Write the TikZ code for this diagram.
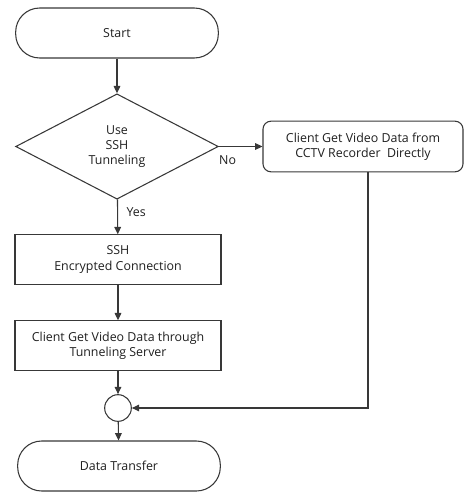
\documentclass[tikz,border=0pt]{standalone}
\usepackage{fontspec}
\setmainfont{Open Sans}
\usetikzlibrary{shapes.geometric,arrows.meta}
\begin{document}
\begin{tikzpicture}[x=0.75pt,y=-0.75pt,
  every node/.style={font=\fontsize{9.3}{11.3}\selectfont, text=black!88, align=center},
  line/.style={draw=black!78, line width=0.8pt},
  arr/.style={line, -{Triangle[length=5.5pt,width=5pt]}},
  term/.style={line, rectangle, rounded corners=18pt, minimum width=152pt, minimum height=37.5pt, inner sep=0pt},
  proc/.style={line, rectangle, minimum width=154.5pt, minimum height=37pt, inner sep=0pt},
  rproc/.style={line, rectangle, rounded corners=6pt, minimum width=150pt, minimum height=38pt, inner sep=0pt},
  dec/.style={line, diamond, aspect=1.93, minimum width=152pt, minimum height=79pt, inner sep=0pt},
  joint/.style={line, circle, minimum size=20pt, inner sep=0pt}]
\useasboundingbox (0,0) rectangle (466,493);
\node[term] (start) at (117,33) {Start};
\node[dec] (dec) at (117,146.5) {Use\\SSH\\Tunneling};
\node[rproc] (direct) at (363,146.5) {Client Get Video Data from\\CCTV Recorder~~Directly};
\node[proc] (ssh) at (118,259.5) {SSH\\Encrypted Connection};
\node[proc] (tun) at (118,345.5) {Client Get Video Data through\\Tunneling Server};
\node[joint] (j) at (118,408) {};
\node[term] (end) at (119,466) {Data Transfer};
\coordinate (turn) at (368,408);
\draw[arr] (start) -- (dec);
\draw[arr] (dec) -- (ssh) node[pos=0.35, right=3pt] {Yes};
\draw[arr] (dec) -- (direct) node[pos=0.2, below=3pt] {No};
\draw[arr] (ssh) -- (tun);
\draw[arr] (tun) -- (j);
\draw[arr] (j) -- (end);
\draw[arr] (direct.south -| turn) -- (turn) -- (j);
\end{tikzpicture}
\end{document}
